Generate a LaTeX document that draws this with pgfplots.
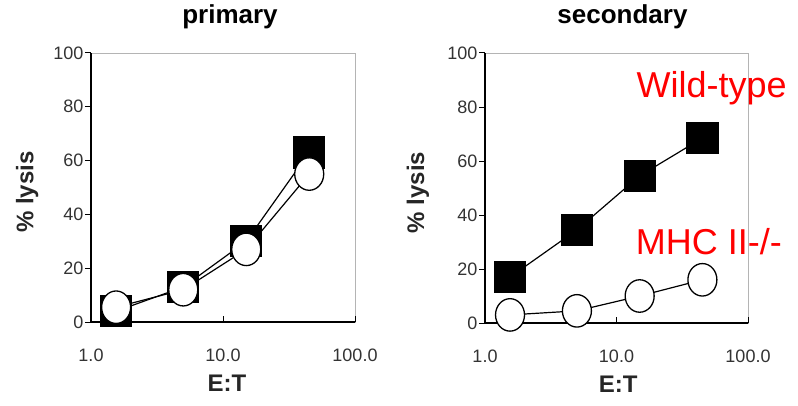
\documentclass[border=0pt]{standalone}
\usepackage{pgfplots}
\pgfplotsset{compat=1.18}
\usepackage{fontspec}
\setmainfont{Liberation Sans}
\definecolor{ticktext}{HTML}{333333}
\definecolor{boxgray}{HTML}{B4B4B4}
\definecolor{labelred}{HTML}{FF0000}

\pgfplotsset{
  wt/.style={black, line width=1.2pt, mark=square*, mark size=15.5pt,
    mark options={fill=black, draw=black}},
  ko/.style={black, line width=1.2pt, mark=*, mark size=14.5pt,
    mark options={fill=white, draw=black, line width=1.3pt, yscale=1.12}},
}

\begin{document}
\begin{tikzpicture}[x=1pt,y=1pt]
\path[use as bounding box] (0,0) rectangle (798,405);

% primary
\begin{axis}[
  scale only axis, anchor=south west, clip=false,
  at={(91pt,83pt)}, width=264pt, height=269pt,
  xmode=log, xmin=1, xmax=100,
  xtick={1,10,100}, xticklabels={1.0,10.0,100.0},
  xminorticks=false,
  ymin=0, ymax=100, ytick={0,20,40,60,80,100},
  yticklabels={0,20,40,60,80,100},
  axis x line*=bottom, axis y line*=left,
  axis line style={-, black, line width=1.1pt},
  axis background/.style={draw=boxgray, line width=0.8pt},
  tick align=inside, major tick length=6pt,
  ytick style={xshift=-6pt, black, line width=1pt},
  xtick style={black, line width=1pt},
  tick label style={font=\fontsize{18}{18}\selectfont, text=ticktext},
  xticklabel style={anchor=center, yshift=-33pt},
  yticklabel style={anchor=east, xshift=-4pt},
  title={primary},
  title style={font=\bfseries\fontsize{26}{26}\selectfont, anchor=base,
    at={(axis description cs:0.5,1)}, yshift=23pt, xshift=7pt},
  ylabel={\% lysis}, xlabel={E:T},
  label style={font=\bfseries\fontsize{24}{24}\selectfont, text=black!85},
  ylabel style={at={(axis description cs:-0.242,0.483)}, anchor=center},
  xlabel style={at={(axis description cs:0.515,-0.227)}, anchor=center},
]
\addplot[wt] coordinates {(1.55,4) (5,13) (15,30) (45,63)};
\addplot[ko] coordinates {(1.55,5.5) (5,12) (15,27) (45,55)};
\end{axis}

% secondary
\begin{axis}[
  scale only axis, anchor=south west, clip=false,
  at={(485pt,82pt)}, width=263pt, height=270pt,
  xmode=log, xmin=1, xmax=100,
  xtick={1,10,100}, xticklabels={1.0,10.0,100.0},
  xminorticks=false,
  ymin=0, ymax=100, ytick={0,20,40,60,80,100},
  yticklabels={0,20,40,60,80,100},
  axis x line*=bottom, axis y line*=left,
  axis line style={-, black, line width=1.1pt},
  axis background/.style={draw=boxgray, line width=0.8pt},
  tick align=inside, major tick length=6pt,
  ytick style={xshift=-6pt, black, line width=1pt},
  xtick style={black, line width=1pt},
  tick label style={font=\fontsize{18}{18}\selectfont, text=ticktext},
  xticklabel style={anchor=center, yshift=-33pt},
  yticklabel style={anchor=east, xshift=-4pt},
  title={secondary},
  title style={font=\bfseries\fontsize{26}{26}\selectfont, anchor=base,
    at={(axis description cs:0.5,1)}, yshift=23pt, xshift=6pt},
  ylabel={\% lysis}, xlabel={E:T},
  label style={font=\bfseries\fontsize{24}{24}\selectfont, text=black!85},
  ylabel style={at={(axis description cs:-0.255,0.483)}, anchor=center},
  xlabel style={at={(axis description cs:0.506,-0.227)}, anchor=center},
]
\addplot[wt] coordinates {(1.55,17) (5,34.5) (15,54.5) (45,68.5)};
\addplot[ko] coordinates {(1.55,3) (5,4.5) (15,10) (45,16)};
\node[anchor=base west, text=labelred, font=\fontsize{36}{36}\selectfont]
  at (rel axis cs:0.563,0.837) {Wild-type};
\node[anchor=base west, text=labelred, font=\fontsize{36}{36}\selectfont]
  at (rel axis cs:0.56,0.252) {MHC II-/-};
\end{axis}
\end{tikzpicture}
\end{document}
